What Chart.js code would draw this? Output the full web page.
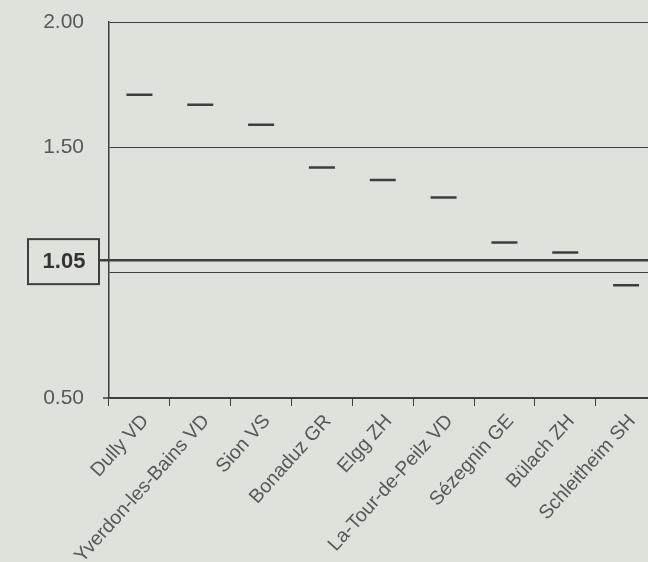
<!DOCTYPE html>
<html lang="fr">
<head>
<meta charset="UTF-8">
<title>Index par commune</title>
<script src="https://cdn.jsdelivr.net/npm/chart.js"></script>
<style>
  html, body { margin: 0; padding: 0; overflow: hidden; background: #dfe2da; }
  canvas { display: block; }
</style>
</head>
<body>
<canvas id="chart" width="672" height="562"></canvas>
<script>
// data
const towns = ['Dully VD', 'Yverdon-les-Bains VD', 'Sion VS', 'Bonaduz GR', 'Elgg ZH',
               'La-Tour-de-Peilz VD', 'Sézegnin GE', 'Bülach ZH', 'Schleitheim SH'];
const values = [1.71, 1.67, 1.59, 1.42, 1.37, 1.30, 1.12, 1.08, 0.95];
const refValue = 1.05;
const refLabel = '1.05';
const yMin = 0.5, yMax = 2.0, yStep = 0.5;

const ink = '#3e3e3c';
const textGrey = '#585856';
const fontFamily = '"Liberation Sans", Arial, sans-serif';

// bold reference line with the boxed label on the left
const refLine = {
  id: 'refLine',
  afterDraw(chart) {
    const ctx = chart.ctx;
    const y = chart.scales.y.getPixelForValue(refValue);
    const area = chart.chartArea;
    ctx.save();
    ctx.strokeStyle = ink;
    ctx.lineWidth = 2.5;
    ctx.beginPath();
    ctx.moveTo(99, y);
    ctx.lineTo(area.right, y);
    ctx.stroke();
    ctx.lineWidth = 2;
    ctx.strokeRect(28, y - 21, 71, 45);
    ctx.fillStyle = '#343432';
    ctx.font = 'bold 22px ' + fontFamily;
    ctx.textAlign = 'center';
    ctx.textBaseline = 'middle';
    ctx.fillText(refLabel, 64, y + 2);
    // small tick left of the axis at the bottom value
    const yb = chart.scales.y.getPixelForValue(yMin);
    ctx.lineWidth = 1.5;
    ctx.beginPath();
    ctx.moveTo(area.left - 6, yb);
    ctx.lineTo(area.left, yb);
    ctx.stroke();
    ctx.restore();
  }
};

new Chart(document.getElementById('chart'), {
  type: 'line',
  data: {
    labels: towns,
    datasets: [{
      data: values,
      showLine: false,
      pointStyle: 'line',
      pointRadius: 13,
      pointHoverRadius: 13,
      pointBorderWidth: 2.5,
      pointBorderColor: ink,
      borderColor: ink
    }]
  },
  options: {
    responsive: false,
    animation: false,
    layout: { padding: { top: 22, right: 0, left: 0, bottom: 0 } },
    plugins: { legend: { display: false }, tooltip: { enabled: false } },
    scales: {
      x: {
        offset: true,
        afterFit(scale) {
          scale.height = 164;
          scale.paddingLeft = 0;
          scale.paddingRight = 0;
        },
        grid: { offset: true, drawOnChartArea: false, drawTicks: true, tickLength: 8, color: ink, lineWidth: 1 },
        border: { color: ink, width: 1.5 },
        ticks: {
          autoSkip: false,
          minRotation: 48,
          maxRotation: 48,
          padding: 4,
          labelOffset: 6,
          color: textGrey,
          font: { family: fontFamily, size: 19.5 }
        }
      },
      y: {
        min: yMin,
        max: yMax,
        afterFit(scale) {
          scale.width = 109;
          scale.paddingTop = 0;
          scale.paddingBottom = 0;
        },
        grid: { color: ink, lineWidth: 1, drawTicks: false },
        border: { color: ink, width: 1.5 },
        ticks: {
          stepSize: yStep,
          padding: 25,
          color: textGrey,
          font: { family: fontFamily, size: 21 },
          callback: v => (Math.abs(v - 1) < 1e-9 ? '' : v.toFixed(2))
        }
      }
    }
  },
  plugins: [refLine]
});
</script>
</body>
</html>
